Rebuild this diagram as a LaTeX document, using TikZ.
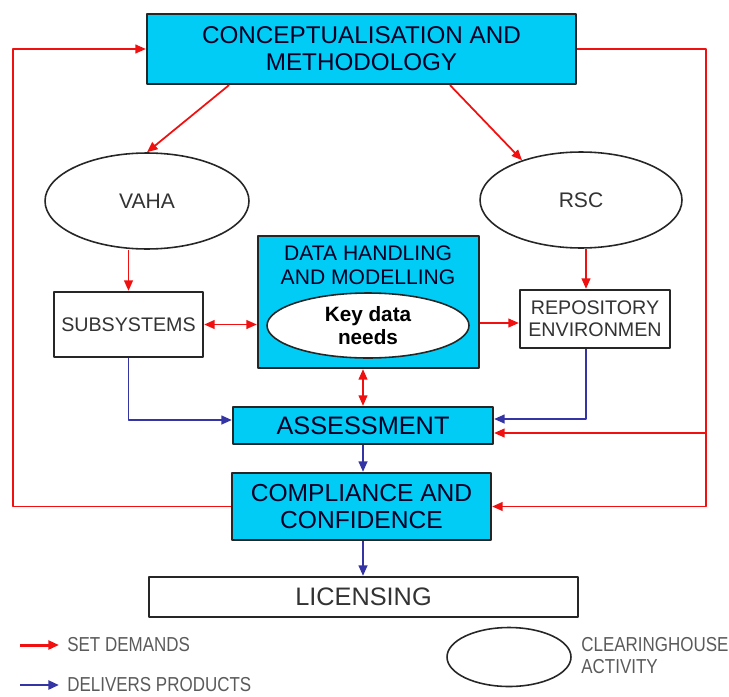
\documentclass[tikz,border=0pt]{standalone}
\usepackage{fontspec}
\setmainfont{Liberation Sans}
\newfontfamily\legendfont{Liberation Sans}[FakeStretch=0.84]
\usetikzlibrary{arrows.meta,shapes.geometric,calc}
\definecolor{boxcyan}{RGB}{0,204,245}
\definecolor{demandred}{RGB}{240,16,16}
\definecolor{productblue}{RGB}{52,52,165}
\definecolor{legendgray}{RGB}{90,90,90}
\begin{document}
\begin{tikzpicture}[
	x=0.02cm,
	y=-0.02cm,
	>={Triangle[length=6pt,width=5pt]},
	line join=round,
	cyanbox/.style={draw=black!85,line width=1.3pt,fill=boxcyan,text=black!85!blue,align=center,inner sep=0pt},
	whitebox/.style={draw=black!85,line width=1.3pt,fill=white,text=black!80,align=center,inner sep=0pt},
	activity/.style={ellipse,draw=black!85,line width=0.9pt,fill=white,text=black!80,inner sep=0pt,align=center},
	legendtext/.style={text=legendgray,font=\legendfont\fontsize{11.5}{12.5}\selectfont,inner sep=0pt,align=left,anchor=west},
	demand/.style={draw=demandred,line width=1pt},
	product/.style={draw=productblue,line width=1.1pt}
	]
	\useasboundingbox (0,0) rectangle (729,696);
	\node[cyanbox,minimum width=8.58cm,minimum height=1.40cm,font=\fontsize{13.8}{15.3}\selectfont] (concept) at (361.5,49) {CONCEPTUALISATION AND\\METHODOLOGY};
	\node[activity,minimum width=4.08cm,minimum height=1.92cm,font=\fontsize{12}{14}\selectfont] (vaha) at (147,201) {VAHA};
	\node[activity,minimum width=4.04cm,minimum height=1.92cm,font=\fontsize{12}{14}\selectfont] (rsc) at (581,200) {RSC};
	\node[whitebox,minimum width=2.98cm,minimum height=1.30cm,font=\fontsize{11.2}{13}\selectfont] (subsys) at (128.5,324.5) {SUBSYSTEMS};
	\node[cyanbox,minimum width=4.42cm,minimum height=2.64cm] (data) at (368.5,302) {};
	\node[text=black!85!blue,align=center,inner sep=0pt,font=\fontsize{12}{13.6}\selectfont] (datatitle) at (368,265) {DATA HANDLING\\AND MODELLING};
	\node[activity,minimum width=4.04cm,minimum height=1.30cm,text=black,font=\bfseries\fontsize{11.8}{13}\selectfont] (keydata) at (368,325.5) {Key data\\needs};
	\node[whitebox,minimum width=3.0cm,minimum height=1.16cm,font=\fontsize{11.2}{12.5}\selectfont] (repo) at (595,319) {REPOSITORY\\ENVIRONMEN};
	\node[cyanbox,minimum width=5.2cm,minimum height=0.74cm,font=\fontsize{14.4}{16}\selectfont] (assess) at (363,425.5) {ASSESSMENT};
	\node[cyanbox,minimum width=5.18cm,minimum height=1.34cm,font=\fontsize{14}{15.5}\selectfont] (comply) at (361.5,506.5) {COMPLIANCE AND\\CONFIDENCE};
	\node[whitebox,minimum width=8.58cm,minimum height=0.80cm,font=\fontsize{14.4}{16}\selectfont] (licensing) at (363.5,597) {LICENSING};

	\coordinate (rightbend) at (706,433);
	\coordinate (leftbend) at (13,49);
	\begin{scope}[demand,->]
		\draw (229,0 |- concept.south) -- (vaha.north);
		\draw (450,0 |- concept.south) -- (rsc.146);
		\draw (subsys.north |- vaha.south) -- (subsys.north);
		\draw (586,0 |- rsc.south) -- (586,0 |- repo.north);
		\draw[<->] (subsys.east) -- (data.west |- subsys.east);
		\draw (data.east |- 0,323) -- (repo.west |- 0,323);
		\draw[<->] (assess.north |- data.south) -- (assess.north);
		\draw (concept.east) -| (rightbend) |- (comply.east);
		\draw (rightbend) -- (assess.east |- rightbend);
		\draw (comply.west) -| (leftbend) -- (concept.west);
	\end{scope}
	\begin{scope}[product,->]
		\draw (subsys.south) |- (assess.west |- 0,420);
		\draw (586,0 |- repo.south) |- (assess.east |- 0,419);
		\draw (assess.south) -- (assess.south |- comply.north);
		\draw (assess.south |- comply.south) -- (assess.south |- licensing.north);
	\end{scope}

	\node[legendtext] (demandlabel) at (67,645) {SET DEMANDS};
	\node[legendtext] (productlabel) at (67,685) {DELIVERS PRODUCTS};
	\node[activity,minimum width=2.48cm,minimum height=1.18cm] (clearing) at (509,657) {};
	\node[legendtext] (clearinglabel) at (581,656) {CLEARINGHOUSE\\ACTIVITY};
	\draw[demand,line width=1.7pt,->] ($(demandlabel.west)+(-47,0)$) -- ($(demandlabel.west)+(-8,0)$);
	\draw[product,line width=1.5pt,->] ($(productlabel.west)+(-47,0)$) -- ($(productlabel.west)+(-8,0)$);
\end{tikzpicture}
\end{document}
